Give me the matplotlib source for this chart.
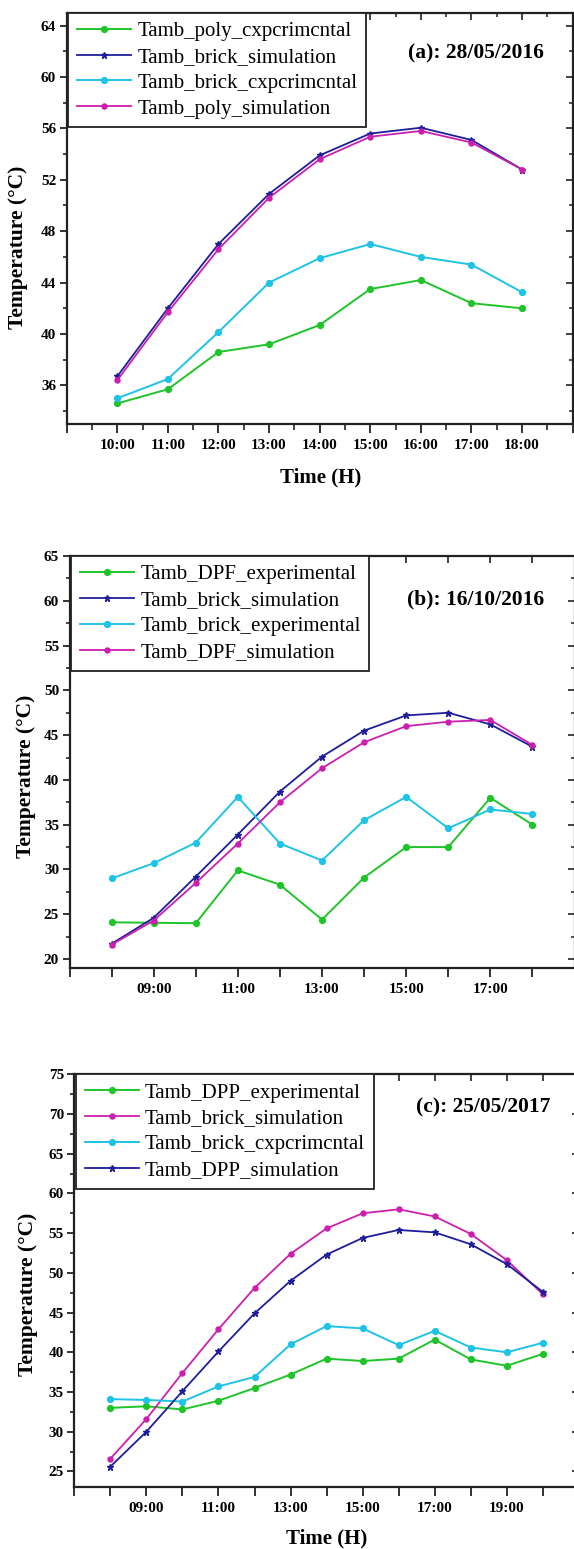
import matplotlib
matplotlib.use('Agg')
import matplotlib.pyplot as plt

plt.rcParams['font.family'] = ['Liberation Serif', 'DejaVu Serif']

# ---------------- data ----------------
hours_a = [10, 11, 12, 13, 14, 15, 16, 17, 18]
a_poly_exp = [34.6, 35.7, 38.6, 39.2, 40.7, 43.5, 44.2, 42.4, 42.0]
a_brick_sim = [36.7, 42.0, 47.0, 50.9, 53.9, 55.6, 56.05, 55.1, 52.8]
a_brick_exp = [35.0, 36.5, 40.15, 44.0, 45.9, 47.0, 46.0, 45.4, 43.25]
a_poly_sim = [36.4, 41.7, 46.6, 50.6, 53.6, 55.35, 55.8, 54.9, 52.8]

hours_b = [8, 9, 10, 11, 12, 13, 14, 15, 16, 17, 18]
b_dpf_exp = [24.1, 24.05, 24.0, 29.9, 28.3, 24.4, 29.1, 32.5, 32.5, 38.0, 35.0]
b_brick_sim = [21.7, 24.6, 29.2, 33.9, 38.7, 42.6, 45.5, 47.2, 47.5, 46.2, 43.7]
b_brick_exp = [29.0, 30.7, 33.0, 38.1, 32.9, 31.0, 35.5, 38.1, 34.6, 36.7, 36.2]
b_dpf_sim = [21.6, 24.3, 28.5, 32.9, 37.5, 41.3, 44.2, 46.0, 46.5, 46.7, 43.9]

hours_c = [8, 9, 10, 11, 12, 13, 14, 15, 16, 17, 18, 19, 20]
c_dpp_exp = [33.0, 33.2, 32.8, 33.9, 35.5, 37.2, 39.2, 38.9, 39.2, 41.6, 39.1, 38.3, 39.8]
c_brick_sim = [26.6, 31.6, 37.4, 42.9, 48.1, 52.4, 55.6, 57.5, 58.0, 57.1, 54.9, 51.6, 47.3]
c_brick_exp = [34.1, 34.0, 33.8, 35.7, 36.9, 41.0, 43.3, 43.0, 40.9, 42.7, 40.6, 40.0, 41.2]
c_dpp_sim = [25.6, 30.0, 35.1, 40.1, 44.9, 49.0, 52.3, 54.4, 55.4, 55.1, 53.6, 51.1, 47.6]

labels_a = ['Tamb_poly_cxpcrimcntal', 'Tamb_brick_simulation',
            'Tamb_brick_cxpcrimcntal', 'Tamb_poly_simulation']
labels_b = ['Tamb_DPF_experimental', 'Tamb_brick_simulation',
            'Tamb_brick_experimental', 'Tamb_DPF_simulation']
labels_c = ['Tamb_DPP_experimental', 'Tamb_brick_simulation',
            'Tamb_brick_cxpcrimcntal', 'Tamb_DPP_simulation']
titles = ['(a): 28/05/2016', '(b): 16/10/2016', '(c): 25/05/2017']

# ---------------- styling ----------------
GREEN = '#1fc42a'
BLUE = '#1e1e9c'
CYAN = '#1fc3e6'
MAGENTA = '#cc1fae'
SP = '#222222'

W, H = 574, 1549
fig = plt.figure(figsize=(W / 100, H / 100), dpi=100)


def rect(l, r, t, b):
    return [l / W, 1 - b / H, (r - l) / W, (b - t) / H]


sty = {
    'exp_g': dict(color=GREEN, marker='o', ms=4.2, lw=1.4),
    'exp_c': dict(color=CYAN, marker='o', ms=4.2, lw=1.4),
    'sim_b': dict(color=BLUE, marker='*', ms=5.0, lw=1.3),
    'sim_m': dict(color=MAGENTA, marker='o', ms=3.6, lw=1.3),
}


def hh(h):
    return '%02d:00' % h


def setup(ax, xlim, xmaj, xlab, xmin, ylim, ymaj, ymin):
    ax.set_xlim(*xlim)
    ax.set_ylim(*ylim)
    for s in ax.spines.values():
        s.set_linewidth(1.6)
        s.set_color(SP)
    ax.set_xticks(xmaj)
    ax.set_xticklabels(xlab, fontweight='bold', fontsize=11)
    ax.set_xticks(xmin, minor=True)
    ax.set_yticks(ymaj)
    ax.set_yticklabels([str(v) for v in ymaj], fontweight='bold', fontsize=11)
    ax.set_yticks(ymin, minor=True)
    ax.tick_params(axis='x', which='major', direction='out', length=6.5, width=1.3,
                   color=SP, pad=4)
    ax.tick_params(axis='x', which='minor', direction='out', length=4, width=1.2, color=SP)
    ax.tick_params(axis='y', which='major', direction='out', length=5, width=1.3,
                   color=SP, pad=2.5)
    ax.tick_params(axis='y', which='minor', direction='out', length=3, width=1.2, color=SP)
    top = ax.secondary_xaxis('top')
    top.set_xticks(xmaj)
    top.set_xticklabels([])
    top.set_xticks(xmin, minor=True)
    top.tick_params(which='major', direction='in', length=5, width=1.2, color=SP)
    top.tick_params(which='minor', direction='in', length=3, width=1.1, color=SP)
    for s in top.spines.values():
        s.set_visible(False)
    right = ax.secondary_yaxis('right')
    right.set_yticks(ymaj)
    right.set_yticklabels([])
    right.set_yticks(ymin, minor=True)
    right.tick_params(which='major', direction='in', length=5, width=1.2, color=SP)
    right.tick_params(which='minor', direction='in', length=3, width=1.1, color=SP)
    for s in right.spines.values():
        s.set_visible(False)


def legend(ax, handles, labels):
    lg = ax.legend(handles, labels, loc='upper left', bbox_to_anchor=(0.003, 1.0),
                   borderaxespad=0, fancybox=False, framealpha=1, edgecolor=SP,
                   fontsize=15, handlelength=2.6, handletextpad=0.3,
                   borderpad=0.42, labelspacing=0.3)
    lg.get_frame().set_linewidth(1.3)
    lg.set_zorder(10)


# ---------------- panel (a) ----------------
ax = fig.add_axes(rect(66.6, 572.7, 12.7, 424))
h1, = ax.plot(hours_a, a_poly_exp, **sty['exp_g'])
h2, = ax.plot(hours_a, a_brick_sim, **sty['sim_b'])
h3, = ax.plot(hours_a, a_brick_exp, **sty['exp_c'])
h4, = ax.plot(hours_a, a_poly_sim, **sty['sim_m'])
xm = list(range(9, 20))
setup(ax, (9, 19), xm, [hh(h) if 10 <= h <= 18 else '' for h in xm],
      [h + 0.5 for h in range(9, 19)], (33, 65), list(range(36, 65, 4)),
      list(range(34, 65, 2)))
legend(ax, [h1, h2, h3, h4], labels_a)

# ---------------- panel (b) ----------------
ax = fig.add_axes(rect(69.5, 574.5, 556, 968))
h1, = ax.plot(hours_b, b_dpf_exp, **sty['exp_g'])
h2, = ax.plot(hours_b, b_brick_sim, **sty['sim_b'])
h3, = ax.plot(hours_b, b_brick_exp, **sty['exp_c'])
h4, = ax.plot(hours_b, b_dpf_sim, **sty['sim_m'])
xm = list(range(7, 20))
setup(ax, (7, 19), xm, [hh(h) if (h % 2 == 1 and 9 <= h <= 17) else '' for h in xm],
      [], (19, 65), list(range(20, 66, 5)), [v + 2.5 for v in range(20, 65, 5)])
legend(ax, [h1, h2, h3, h4], labels_b)

# ---------------- panel (c) ----------------
ax = fig.add_axes(rect(74.3, 578.9, 1074.3, 1487.3))
h1, = ax.plot(hours_c, c_dpp_exp, **sty['exp_g'])
h2, = ax.plot(hours_c, c_brick_sim, **sty['sim_m'])
h3, = ax.plot(hours_c, c_brick_exp, **sty['exp_c'])
h4, = ax.plot(hours_c, c_dpp_sim, **sty['sim_b'])
xm = list(range(7, 22))
setup(ax, (7, 21), xm, [hh(h) if (h % 2 == 1 and 9 <= h <= 19) else '' for h in xm],
      [], (23, 75), list(range(25, 76, 5)), [v + 2.5 for v in range(25, 75, 5)])
legend(ax, [h1, h2, h3, h4], labels_c)

# ---------------- texts ----------------
def ftext(x, y, s, **kw):
    fig.text(x / W, 1 - y / H, s, ha='center', va='center', fontweight='bold', **kw)

ftext(476, 53, titles[0], fontsize=15.5)
ftext(476, 599, titles[1], fontsize=15.5)
ftext(483, 1107, titles[2], fontsize=15.5)
for x, y in [(18, 247), (26, 776), (28, 1294)]:
    ftext(x, y, 'Temperature (°C)', fontsize=15.5, rotation=90)
ftext(321, 477, 'Time (H)', fontsize=15)
ftext(327, 1538, 'Time (H)', fontsize=15)

fig.savefig('out.png', dpi=100)
